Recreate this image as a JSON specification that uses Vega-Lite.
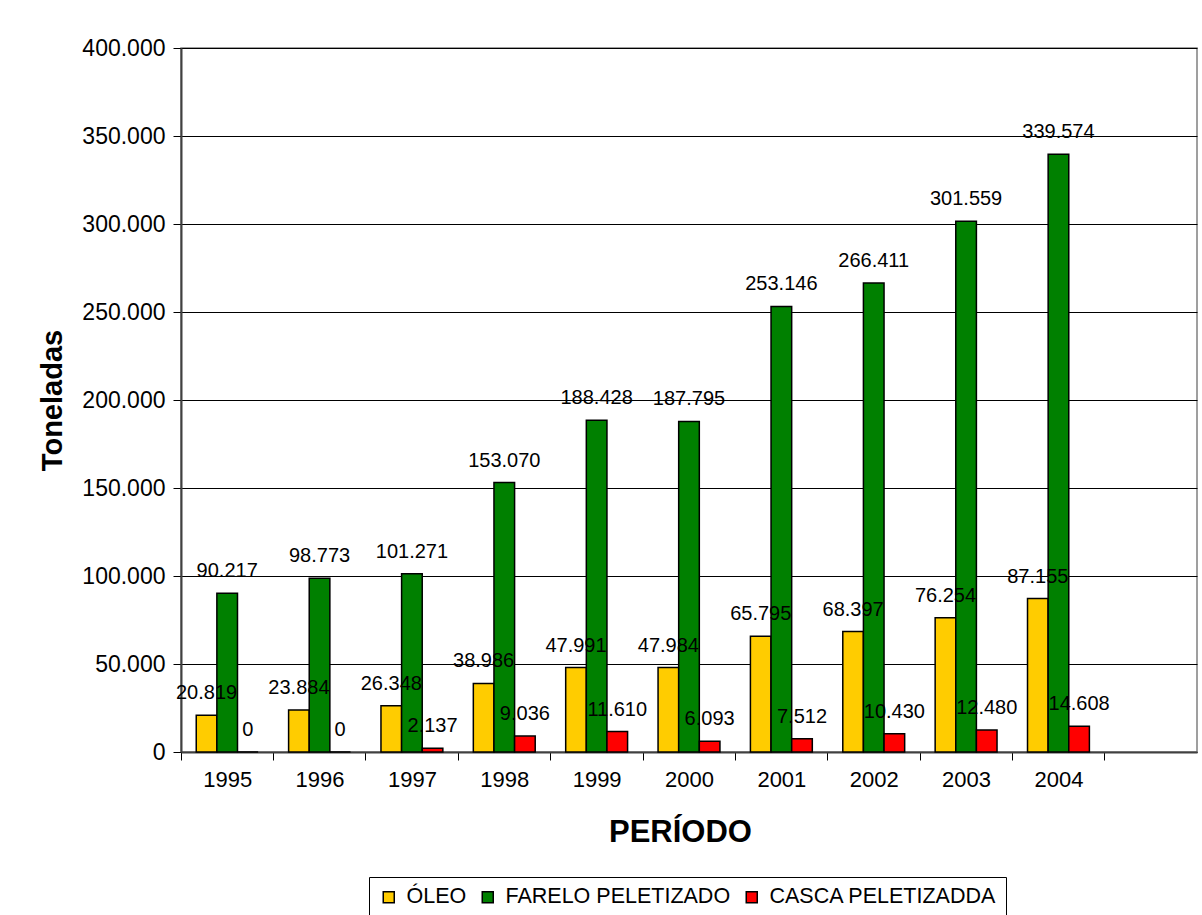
{
  "$schema": "https://vega.github.io/schema/vega-lite/v6.json",
  "width": 1016,
  "height": 704,
  "autosize": {"type": "none"},
  "padding": {"left": 181, "top": 48, "right": 5, "bottom": 163},
  "background": "white",
  "config": {
    "locale": {"number": {"decimal": ",", "thousands": ".", "grouping": [3], "currency": ["R$", ""]}},
    "font": "Liberation Sans",
    "view": {"stroke": "#808080", "strokeWidth": 1.5},
    "axis": {"labelColor": "black", "titleColor": "black", "labelFont": "Liberation Sans", "titleFont": "Liberation Sans"}
  },
  "data": {
    "values": [
      {"ano": "1995", "serie": "ÓLEO", "valor": 20819},
      {"ano": "1995", "serie": "FARELO PELETIZADO", "valor": 90217},
      {"ano": "1995", "serie": "CASCA PELETIZADDA", "valor": 0},
      {"ano": "1996", "serie": "ÓLEO", "valor": 23884},
      {"ano": "1996", "serie": "FARELO PELETIZADO", "valor": 98773},
      {"ano": "1996", "serie": "CASCA PELETIZADDA", "valor": 0},
      {"ano": "1997", "serie": "ÓLEO", "valor": 26348},
      {"ano": "1997", "serie": "FARELO PELETIZADO", "valor": 101271},
      {"ano": "1997", "serie": "CASCA PELETIZADDA", "valor": 2137},
      {"ano": "1998", "serie": "ÓLEO", "valor": 38986},
      {"ano": "1998", "serie": "FARELO PELETIZADO", "valor": 153070},
      {"ano": "1998", "serie": "CASCA PELETIZADDA", "valor": 9036},
      {"ano": "1999", "serie": "ÓLEO", "valor": 47991},
      {"ano": "1999", "serie": "FARELO PELETIZADO", "valor": 188428},
      {"ano": "1999", "serie": "CASCA PELETIZADDA", "valor": 11610},
      {"ano": "2000", "serie": "ÓLEO", "valor": 47984},
      {"ano": "2000", "serie": "FARELO PELETIZADO", "valor": 187795},
      {"ano": "2000", "serie": "CASCA PELETIZADDA", "valor": 6093},
      {"ano": "2001", "serie": "ÓLEO", "valor": 65795},
      {"ano": "2001", "serie": "FARELO PELETIZADO", "valor": 253146},
      {"ano": "2001", "serie": "CASCA PELETIZADDA", "valor": 7512},
      {"ano": "2002", "serie": "ÓLEO", "valor": 68397},
      {"ano": "2002", "serie": "FARELO PELETIZADO", "valor": 266411},
      {"ano": "2002", "serie": "CASCA PELETIZADDA", "valor": 10430},
      {"ano": "2003", "serie": "ÓLEO", "valor": 76254},
      {"ano": "2003", "serie": "FARELO PELETIZADO", "valor": 301559},
      {"ano": "2003", "serie": "CASCA PELETIZADDA", "valor": 12480},
      {"ano": "2004", "serie": "ÓLEO", "valor": 87155},
      {"ano": "2004", "serie": "FARELO PELETIZADO", "valor": 339574},
      {"ano": "2004", "serie": "CASCA PELETIZADDA", "valor": 14608}
    ]
  },
  "encoding": {
    "x": {
      "field": "ano",
      "type": "nominal",
      "scale": {"domain": ["1995", "1996", "1997", "1998", "1999", "2000", "2001", "2002", "2003", "2004", ""], "paddingInner": 0.33, "paddingOuter": 0.165},
      "axis": {
        "title": "PERÍODO",
        "titleFontSize": 31,
        "titleFontWeight": "bold",
        "titlePadding": 27,
        "titleX": 499,
        "labelFontSize": 22,
        "labelAngle": 0,
        "labelPadding": 9,
        "bandPosition": 0,
        "tickOffset": -15.5,
        "labelOffset": 15.5,
        "tickSize": 8,
        "tickColor": "black",
        "domainColor": "#404040",
        "domainWidth": 2,
        "grid": false
      }
    },
    "xOffset": {
      "field": "serie",
      "type": "nominal",
      "sort": ["ÓLEO", "FARELO PELETIZADO", "CASCA PELETIZADDA"],
      "scale": {"paddingInner": 0, "paddingOuter": 0}
    },
    "y": {
      "field": "valor",
      "type": "quantitative",
      "scale": {"domain": [0, 400000]},
      "axis": {
        "title": "Toneladas",
        "titleFontSize": 29,
        "titleFontWeight": "bold",
        "titleX": -129,
        "titleBaseline": "middle",
        "values": [0, 50000, 100000, 150000, 200000, 250000, 300000, 350000, 400000],
        "format": ",d",
        "labelFontSize": 23,
        "labelPadding": 8,
        "tickSize": 8,
        "tickColor": "black",
        "domainColor": "#404040",
        "domainWidth": 2,
        "grid": true,
        "gridColor": "black",
        "gridWidth": 1
      }
    }
  },
  "layer": [
    {
      "mark": {"type": "bar", "stroke": "black", "strokeWidth": 1.5},
      "encoding": {
        "color": {
          "field": "serie",
          "type": "nominal",
          "scale": {"domain": ["ÓLEO", "FARELO PELETIZADO", "CASCA PELETIZADDA"], "range": ["#FFCC00", "#008000", "#FF0000"]},
          "legend": {
            "orient": "none",
            "legendX": 188,
            "legendY": 829,
            "direction": "horizontal",
            "title": null,
            "strokeColor": "black",
            "fillColor": "white",
            "padding": 9,
            "labelFontSize": 21.5,
            "labelLimit": 0,
            "labelColor": "black",
            "labelFont": "Liberation Sans",
            "symbolType": "square",
            "symbolSize": 121,
            "symbolStrokeColor": "black",
            "symbolStrokeWidth": 1.5,
            "symbolOpacity": 1,
            "labelOffset": 7,
            "columnPadding": 10
          }
        }
      }
    },
    {
      "mark": {"type": "text", "dy": -16, "baseline": "alphabetic", "fontSize": 20, "color": "black"},
      "encoding": {"text": {"field": "valor", "type": "quantitative", "format": ",d"}}
    }
  ]
}
